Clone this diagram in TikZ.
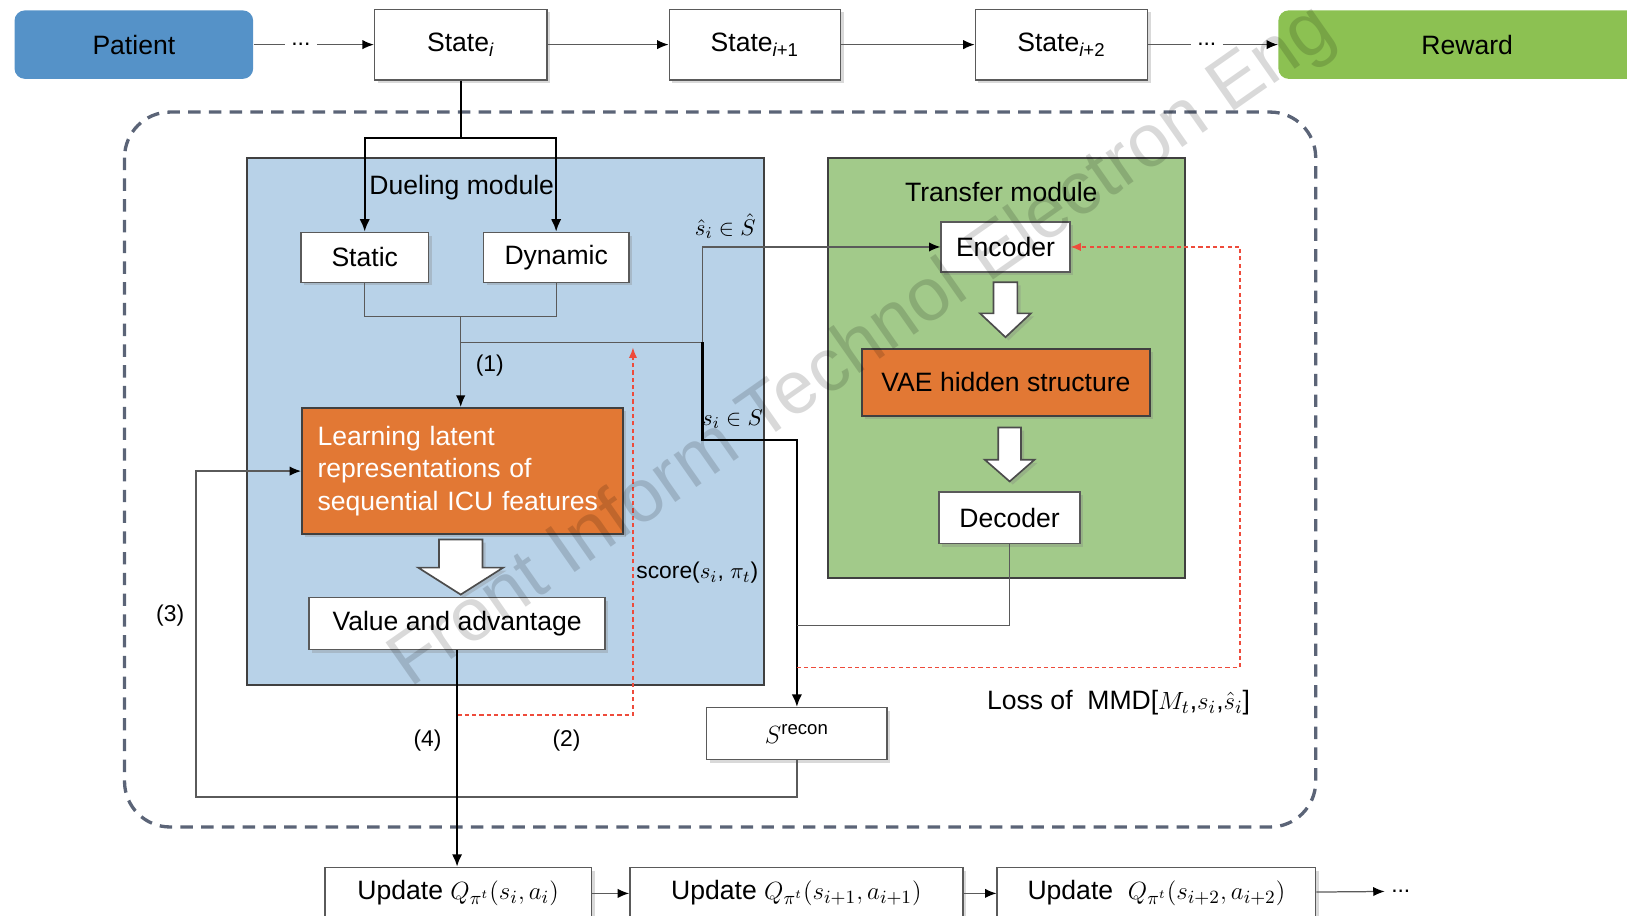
\documentclass[tikz,border=0pt]{standalone}
\usepackage{fontspec}
\setmainfont{Liberation Sans}
\usetikzlibrary{positioning,shadows,arrows.meta}

\definecolor{patblue}{HTML}{5592C8}
\definecolor{rewgreen}{HTML}{8CC152}
\definecolor{duelblue}{HTML}{B8D2E8}
\definecolor{transgreen}{HTML}{A2CA8A}
\definecolor{vaeorange}{HTML}{E27834}
\definecolor{edgegray}{HTML}{5A5A5A}
\definecolor{outerdash}{HTML}{5B6477}
\definecolor{lossred}{HTML}{EE4B3B}

\tikzset{
  shade/.style={drop shadow={opacity=0.3,shadow xshift=1.5pt,shadow yshift=-1.5pt}},
  whitebox/.style={draw=edgegray,line width=0.7pt,fill=white,inner sep=0pt,shade},
  orangebox/.style={draw=black!75,line width=0.9pt,fill=vaeorange,inner sep=0pt,shade},
  endbox/.style={rounded corners=5pt,inner sep=0pt,minimum height=33pt},
  module/.style={draw=black!75,line width=1pt,inner sep=0pt},
  link/.style={draw=edgegray,line width=0.6pt},
  flow/.style={link,-{Latex[length=5.5pt,width=4.5pt,color=black]}},
  heavy/.style={draw=black,line width=1.1pt,-{Latex[length=6pt,width=5pt]}},
  lossline/.style={draw=lossred,line width=0.6pt,dash pattern=on 2pt off 1.5pt,-{Latex[length=5pt,width=4pt]}},
  hollow/.style={draw=black!70,line width=0.8pt,fill=white,shade},
  small/.style={font=\fontsize{11}{13}\selectfont},
  watermark/.style={font=\fontsize{36}{40}\selectfont,text=black,opacity=0.15}
}

\newcommand{\hollowdown}[6]{\draw[hollow] (#1-#3,#2) -- (#1+#3,#2) -- (#1+#3,#5) -- (#1+#4,#5) -- (#1,#6) -- (#1-#4,#5) -- (#1-#3,#5) -- cycle;}

\begin{document}
\begin{tikzpicture}[x=0.5pt,y=-0.5pt,font=\fontsize{12.8}{15.5}\selectfont]
    \path[use as bounding box,clip] (0,0) rectangle (1568,882);
    \draw[draw=outerdash,line width=1.6pt,dash pattern=on 6pt off 4pt,rounded corners=22pt] (120,108) rectangle (1268,797);

    \node[endbox,fill=patblue,minimum width=115pt] (patient) at (129,43) {Patient};
    \node[small,inner xsep=3pt] (dots1) at (290,43) {...};
    \node[whitebox,minimum width=83pt,minimum height=34pt] (st0) at (444,43) {State\textsubscript{\itshape i}};
    \node[whitebox,minimum width=82.5pt,minimum height=34pt] (st1) at (727.5,43) {State\textsubscript{\itshape i\upshape +1}};
    \node[whitebox,minimum width=83pt,minimum height=34pt] (st2) at (1023,43) {State\textsubscript{\itshape i\upshape +2}};
    \node[small,inner xsep=3pt] (dots2) at (1163,43) {...};
    \node[endbox,fill=rewgreen,minimum width=182pt] (reward) at (1414,43) {Reward};

    \node[module,fill=duelblue,minimum width=249pt,minimum height=254pt] (duel) at (487,406) {};
    \node (duelname) at (445,181) {Dueling module};
    \node[module,fill=transgreen,minimum width=172pt,minimum height=202.5pt] (trans) at (970,354.5) {};
    \node (transname) at (965,185) {Transfer module};

    \node[whitebox,minimum width=61.5pt,minimum height=24pt] (static) at (351.5,248) {Static};
    \node[whitebox,minimum width=70pt,minimum height=24pt] (dynamic) at (536,248) {Dynamic};
    \node[orangebox,minimum width=154.5pt,minimum height=61pt,text width=139.5pt,align=left,text=white,inner xsep=7.5pt] (learn) at (445.5,454) {Learning latent\\representations of\\sequential ICU features};
    \node[whitebox,minimum width=142.5pt,minimum height=25pt] (value) at (440.5,601) {Value and advantage};
    \node[whitebox,minimum width=62pt,minimum height=24pt] (encoder) at (969,238) {Encoder};
    \node[orangebox,minimum width=138.5pt,minimum height=32.5pt] (vae) at (969.5,368.5) {VAE hidden structure};
    \node[whitebox,minimum width=68pt,minimum height=25pt] (decoder) at (973,499) {Decoder};
    \node[whitebox,minimum width=87pt,minimum height=25pt] (recon) at (768,707) {$S^{\mathrm{recon}}$};

    \node[whitebox,minimum width=128.5pt,minimum height=25pt] (upd1) at (441.5,861) {Update $Q_{\pi^t}(s_i,a_i)$};
    \node[whitebox,minimum width=160.5pt,minimum height=25pt] (upd2) at (767.5,861) {Update $Q_{\pi^t}(s_{i+1},a_{i+1})$};
    \node[whitebox,minimum width=153.5pt,minimum height=25pt] (upd3) at (1114.5,861) {Update\ \ $Q_{\pi^t}(s_{i+2},a_{i+2})$};
    \node[small,inner xsep=3pt] (dots3) at (1350,859) {...};

    \draw[link] (patient) -- (dots1);
    \draw[flow] (dots1) -- (st0);
    \draw[flow] (st0) -- (st1);
    \draw[flow] (st1) -- (st2);
    \draw[link] (st2) -- (dots2);
    \draw[flow] (dots2) -- (reward);

    \coordinate (split) at (444,133);
    \draw[heavy,-] (st0.south) -- (split);
    \draw[heavy] (split) -| (static.north);
    \draw[heavy] (split) -| (dynamic.north);

    \coordinate (merge) at (444,305);
    \draw[link] (static.south) |- (merge) -| (dynamic.south);
    \draw[flow] (merge) -- (merge |- learn.north);
    \node[small] (lab1) at (472,352) {(1)};

    \coordinate (fork) at (677,330);
    \coordinate (knee) at (677,424);
    \draw[link] (merge |- fork) -- (fork);
    \draw[flow] (fork) |- (encoder.west);
    \draw[heavy] (fork) -- (knee) -| (recon.north);
    \node[small] (shat) at (699,218) {$\hat{s}_i\in\hat{S}$};
    \node[small] (sset) at (706,404) {$s_i\in S$};

    \coordinate (dectap) at (768,603);
    \draw[link] (decoder.south) |- (dectap);

    \coordinate (loopc) at (189,768);
    \draw[flow] (recon.south) |- (loopc) |- (learn.west);
    \node[small] (lab3) at (164,593) {(3)};

    \draw[heavy] (value.south) -- (value.south |- upd1.north);
    \node[small] (lab4) at (412,714) {(4)};

    \coordinate (red2a) at (441,689);
    \coordinate (red2b) at (610,335);
    \draw[lossline] (red2a) -| (red2b);
    \node[small] (lab2) at (546,714) {(2)};
    \node[small] (score) at (672,552) {score($s_i$, $\pi_t$)};

    \coordinate (mmda) at (768,643);
    \coordinate (mmdb) at (1195,643);
    \draw[lossline] (mmda) -- (mmdb) |- (encoder.east);
    \node (mmd) at (1078,677) {Loss of\ \ MMD[$M_t$,$s_i$,$\hat{s}_i$]};

    \draw[flow] (upd1) -- (upd2);
    \draw[flow] (upd2) -- (upd3);
    \draw[flow] (upd3) -- (dots3);

    \hollowdown{444}{520}{21}{41}{547}{573}
    \hollowdown{969}{272}{11.5}{24.5}{302}{325}
    \hollowdown{973}{412}{11}{24}{443}{464}

    \node[watermark,rotate=35] (mark) at (832,335) {Front Inform Technol Electron Eng};
\end{tikzpicture}
\end{document}
